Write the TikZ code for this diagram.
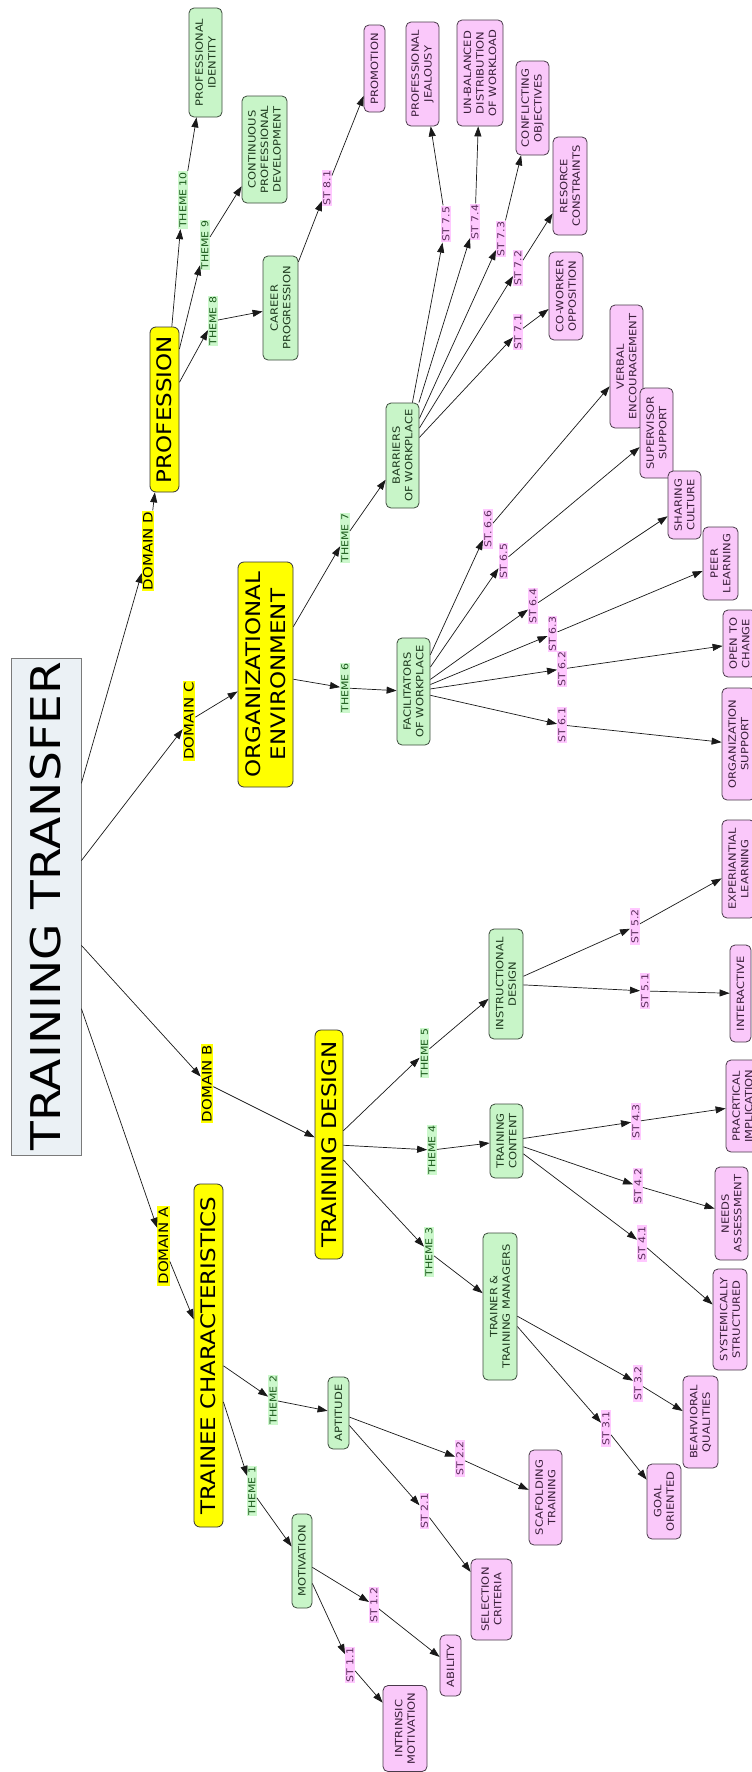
\documentclass[tikz,border=0pt]{standalone}
\usepackage{fontspec}
\setmainfont{DejaVu Sans}[FakeStretch=1.15]
\usetikzlibrary{arrows.meta}
\definecolor{ttfill}{HTML}{EBF1F5}
\definecolor{ttdraw}{HTML}{7A7A7A}
\definecolor{ybox}{HTML}{FFFF00}
\definecolor{gfill}{HTML}{C8F5C8}
\definecolor{gdraw}{HTML}{3C4C3C}
\definecolor{gtext}{HTML}{1E3A1E}
\definecolor{pfill}{HTML}{FAC8FA}
\definecolor{pdraw}{HTML}{4A3A4A}
\definecolor{ptext}{HTML}{3A1E3A}
\definecolor{glab}{HTML}{CCF8CC}
\definecolor{glabt}{HTML}{1A5A1A}
\definecolor{plab}{HTML}{FFC8FF}
\definecolor{plabt}{HTML}{5A2A5A}
\tikzset{
  sz/.style 2 args={minimum width=#1pt, minimum height=#2pt},
  ttbox/.style={draw=ttdraw, fill=ttfill, rotate=90, inner sep=0pt, line width=0.8pt,
    font=\fontsize{41}{46}\selectfont},
  big/.style={draw=black!80, fill=ybox, rounded corners=6pt, rotate=90, inner sep=0pt,
    align=center, line width=0.8pt, font=\fontsize{20}{24.5}\selectfont},
  grn/.style={draw=gdraw, fill=gfill, text=gtext, rounded corners=5pt, rotate=90, inner sep=0pt,
    align=center, line width=0.8pt, font=\fontsize{10}{12.6}\selectfont},
  pnk/.style={draw=pdraw, fill=pfill, text=ptext, rounded corners=5pt, rotate=90, inner sep=0pt,
    align=center, line width=0.8pt, font=\fontsize{10}{12.6}\selectfont},
  dom/.style={fill=ybox, text=black, rotate=90, inner sep=1.2pt, font=\fontsize{13}{15}\selectfont},
  thm/.style={fill=glab, text=glabt, rotate=90, inner sep=1.2pt, font=\fontsize{9.5}{11}\selectfont},
  stl/.style={fill=plab, text=plabt, rotate=90, inner sep=1.2pt, font=\fontsize{9.5}{11}\selectfont},
  arr/.style={-{Triangle[length=10pt,width=7pt]}, line width=0.7pt, black!90},
}
\begin{document}
\begin{tikzpicture}[x=1pt,y=-1pt]
\useasboundingbox[fill=white] (0,0) rectangle (752,1772);

% main nodes
\node[ttbox, sz={497}{70}] (TT) at (46,906.5) {TRAINING TRANSFER};
\node[big, sz={343}{29}] (TCH) at (208.5,1355.5) {TRAINEE CHARACTERISTICS};
\node[big, sz={229}{28}] (TDS) at (329,1144.5) {TRAINING DESIGN};
\node[big, sz={225}{55}] (OE) at (265.5,674.5) {ORGANIZATIONAL\\ENVIRONMENT};
\node[big, sz={165}{29}] (PRF) at (164.5,409.5) {PROFESSION};

% themes (green)
\node[grn, sz={109}{33}] (PID) at (205.5,62.5) {PROFESSIONAL\\IDENTITY};
\node[grn, sz={107}{45}] (CPD) at (264.5,149.5) {CONTINUOUS\\PROFESSIONAL\\DEVELOPMENT};
\node[grn, sz={104}{35}] (CAR) at (280.5,308) {CAREER\\PROGRESSION};
\node[grn, sz={105}{33}] (BAR) at (402.5,455.5) {BARRIERS\\OF WORKPLACE};
\node[grn, sz={107}{33}] (FAC) at (413.5,691.5) {FACILITATORS\\OF WORKPLACE};
\node[grn, sz={110}{34}] (INS) at (506,984) {INSTRUCTIONAL\\DESIGN};
\node[grn, sz={74}{33}] (TCO) at (506.5,1141) {TRAINING\\CONTENT};
\node[grn, sz={147}{34}] (TTM) at (500,1306.5) {TRAINER \&\\TRAINING MANAGERS};
\node[grn, sz={72}{21}] (APT) at (338.5,1413) {APTITUDE};
\node[grn, sz={94}{20}] (MOT) at (302,1561) {MOTIVATION};

% sub-themes (pink)
\node[pnk, sz={87}{21}] (PRO) at (374.5,68.5) {PROMOTION};
\node[pnk, sz={104}{33}] (PJ) at (422.5,74) {PROFESSIONAL\\JEALOUSY};
\node[pnk, sz={106}{46}] (UNB) at (480,73) {UN-BALANCED\\DISTRIBUTION\\OF WORKLOAD};
\node[pnk, sz={94}{33}] (CON) at (532.5,108) {CONFLICTING\\OBJECTIVES};
\node[pnk, sz={98}{34}] (RES) at (570,186) {RESORCE\\CONSTRAINTS};
\node[pnk, sz={88}{34}] (COW) at (566,296) {CO-WORKER\\OPPOSITION};
\node[pnk, sz={123}{33}] (VER) at (626.5,366.5) {VERBAL\\ENCOURAGEMENT};
\node[pnk, sz={90}{33}] (SUP) at (656.5,433) {SUPERVISOR\\SUPPORT};
\node[pnk, sz={68}{33}] (SHA) at (684.5,505) {SHARING\\CULTURE};
\node[pnk, sz={73}{35}] (PEE) at (720.5,563.5) {PEER\\LEARNING};
\node[pnk, sz={67}{33}] (OPN) at (739.5,643.5) {OPEN TO\\CHANGE};
\node[pnk, sz={112}{33}] (ORS) at (738.5,744) {ORGANIZATION\\SUPPORT};
\node[pnk, sz={98}{33}] (EXP) at (738.5,869) {EXPERIANTIAL\\LEARNING};
\node[pnk, sz={97}{21}] (INT) at (740.5,993.5) {INTERACTIVE};
\node[pnk, sz={92}{33}] (PRC) at (742.5,1106) {PRACRTICAL\\IMPLICATION};
\node[pnk, sz={93}{33}] (NEE) at (731.5,1213.5) {NEEDS\\ASSESSMENT};
\node[pnk, sz={101}{34}] (SYS) at (730,1319.5) {SYSTEMICALLY\\STRUCTURED};
\node[pnk, sz={92}{35}] (BEH) at (700.5,1422) {BEAHVIORAL\\QUALITIES};
\node[pnk, sz={75}{34}] (GOA) at (664,1501.5) {GOAL\\ORIENTED};
\node[pnk, sz={95}{33}] (SCA) at (545.5,1497.5) {SCAFOLDING\\TRAINING};
\node[pnk, sz={81}{41}] (SEL) at (491.5,1599.5) {SELECTION\\CRITERIA};
\node[pnk, sz={61}{21}] (ABI) at (450.5,1665.5) {ABILITY};
\node[pnk, sz={86}{44}] (INM) at (405,1728.5) {INTRINSIC\\MOTIVATION};

% domain labels
\node[dom] (dD) at (148,551) {DOMAIN D};
\node[dom] (dC) at (189,721) {DOMAIN C};
\node[dom] (dB) at (207,1083.5) {DOMAIN B};
\node[dom] (dA) at (163.5,1246) {DOMAIN A};

% theme labels
\node[thm] (t10) at (183,200) {THEME 10};
\node[thm] (t9) at (205,245) {THEME 9};
\node[thm] (t8) at (213,321) {THEME 8};
\node[thm] (t7) at (345,538) {THEME 7};
\node[thm] (t6) at (345,688) {THEME 6};
\node[thm] (t5) at (424.5,1053) {THEME 5};
\node[thm] (t4) at (432,1150) {THEME 4};
\node[thm] (t3) at (429,1252) {THEME 3};
\node[thm] (t2) at (273,1400) {THEME 2};
\node[thm] (t1) at (252,1491) {THEME 1};

% sub-theme labels
\node[stl] (s81) at (327,188) {ST 8.1};
\node[stl] (s75) at (446,224) {ST 7.5};
\node[stl] (s74) at (475,222) {ST 7.4};
\node[stl] (s73) at (501,239) {ST 7.3};
\node[stl] (s72) at (518,268) {ST 7.2};
\node[stl] (s71) at (518,332) {ST 7.1};
\node[stl] (s66) at (488,529) {ST. 6.6};
\node[stl] (s65) at (503.5,561) {ST 6.5};
\node[stl] (s64) at (533,606) {ST 6.4};
\node[stl] (s63) at (552.5,634) {ST 6.3};
\node[stl] (s62) at (562,669) {ST 6.2};
\node[stl] (s61) at (562,725) {ST 6.1};
\node[stl] (s52) at (635,926.5) {ST 5.2};
\node[stl] (s51) at (645,991) {ST 5.1};
\node[stl] (s43) at (636,1121.5) {ST 4.3};
\node[stl] (s42) at (638,1186) {ST 4.2};
\node[stl] (s41) at (642,1243.5) {ST 4.1};
\node[stl] (s32) at (638,1383.5) {ST 3.2};
\node[stl] (s31) at (606,1428.5) {ST 3.1};
\node[stl] (s22) at (460,1458.5) {ST 2.2};
\node[stl] (s21) at (424.5,1511) {ST 2.1};
\node[stl] (s12) at (374,1605) {ST 1.2};
\node[stl] (s11) at (350,1665) {ST 1.1};

% connectors: parent -> label -> child
\foreach \p/\l/\c in {TT/dA/TCH, TT/dB/TDS, TT/dC/OE, TT/dD/PRF,
  TCH/t1/MOT, TCH/t2/APT, TDS/t3/TTM, TDS/t4/TCO, TDS/t5/INS,
  OE/t6/FAC, OE/t7/BAR, PRF/t8/CAR, PRF/t9/CPD, PRF/t10/PID,
  MOT/s11/INM, MOT/s12/ABI, APT/s21/SEL, APT/s22/SCA,
  TTM/s31/GOA, TTM/s32/BEH, TCO/s41/SYS, TCO/s42/NEE, TCO/s43/PRC,
  INS/s51/INT, INS/s52/EXP,
  FAC/s61/ORS, FAC/s62/OPN, FAC/s63/PEE, FAC/s64/SHA, FAC/s65/SUP, FAC/s66/VER,
  BAR/s71/COW, BAR/s72/RES, BAR/s73/CON, BAR/s74/UNB, BAR/s75/PJ,
  CAR/s81/PRO}{
  \draw[arr] (\p) -- (\l);
  \draw[arr] (\l) -- (\c);
}
\end{tikzpicture}
\end{document}
